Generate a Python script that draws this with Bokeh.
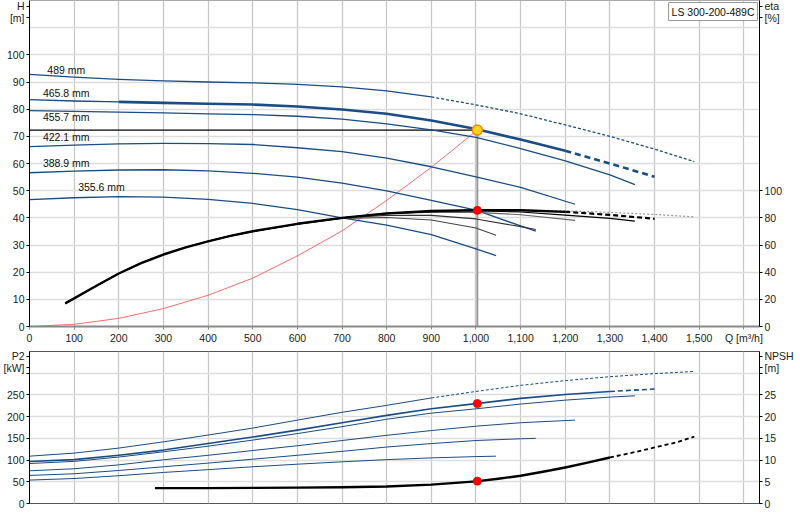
from bokeh.plotting import figure
from bokeh.layouts import column
from bokeh.models import Range1d, LinearAxis, FixedTicker, Label, NumeralTickFormatter
from bokeh.core.properties import value
from bokeh.embed import file_html
from bokeh.resources import INLINE

FONT = "Liberation Sans"
FS = "10.5px"
BLUE = "#1a4c85"
W = 796
BL, BR = 29, 34          # left / right borders of both figures

pump_name = "LS 300-200-489C"

# impeller curves: flow Q [m3/h], head H [m], efficiency eta [%], power P2 [kW]
q_489 = [0, 100, 200, 300, 400, 500, 600, 700, 800, 900, 1000, 1100, 1200, 1300, 1400, 1489]
h_489 = [92.8, 91.8, 91.0, 90.4, 90.0, 89.7, 89.1, 88.2, 86.7, 84.5, 81.6, 78.3, 74.2, 70.0, 65.3, 60.7]
qe_489 = [80, 100, 150, 200, 250, 300, 350, 400, 450, 500, 600, 700, 800, 900, 1000, 1100, 1200, 1300, 1400, 1489]
eta_489 = [17, 20.7, 30.0, 39, 46.7, 53, 58.3, 62.7, 66.7, 70.1, 75.6, 80.0, 83.3, 85.0, 85.8, 85.9, 85.2, 84.0, 82.5, 80.7]
p2_489 = [109, 116, 127.6, 142, 157.6, 173.7, 192, 210, 226, 243, 258, 272, 283, 292, 299, 304]

q_466 = [0, 100, 200, 300, 400, 500, 600, 700, 800, 900, 1000, 1100, 1200, 1300, 1400]
h_466 = [83.5, 83.0, 82.7, 82.3, 82.0, 81.7, 81.0, 79.9, 78.3, 75.8, 72.7, 68.8, 64.7, 60.0, 55.1]
qe_466 = [80, 100, 150, 200, 250, 300, 350, 400, 450, 500, 600, 700, 800, 900, 1000, 1100, 1200, 1300, 1400]
eta_466 = [17, 20.7, 30.0, 39, 46.7, 53, 58.3, 62.7, 66.7, 70.1, 75.6, 80.0, 83.3, 85.0, 85.7, 85.6, 84.4, 82.2, 79.3]
p2_466 = [96.8, 101, 111, 123, 138, 153, 169, 186, 203, 218, 230, 242, 251, 258, 263.6]

q_456 = [0, 100, 200, 300, 400, 500, 600, 700, 800, 900, 1000, 1100, 1200, 1300, 1356]
h_456 = [79.5, 79.2, 78.9, 78.6, 78.3, 78.0, 77.4, 76.3, 74.6, 72.4, 69.6, 65.5, 61.0, 55.8, 52.2]
qe_456 = [80, 100, 150, 200, 250, 300, 350, 400, 450, 500, 600, 700, 800, 900, 1000, 1100, 1200, 1300, 1356]
eta_456 = [17, 20.7, 30.0, 39, 46.7, 53, 58.3, 62.7, 66.7, 70.0, 75.5, 80.0, 83.0, 84.6, 85.2, 84.3, 82.0, 79.6, 77.6]
p2_456 = [92, 97, 107, 119, 132, 146, 161, 177, 194, 208, 218, 229, 238, 245, 248]

q_422 = [0, 100, 200, 300, 400, 500, 600, 700, 800, 900, 1000, 1100, 1222]
h_422 = [66.2, 66.8, 67.2, 67.4, 67.3, 67.0, 65.8, 64.4, 62.0, 58.8, 55.1, 51.2, 45.0]
qe_422 = [80, 100, 150, 200, 250, 300, 350, 400, 450, 500, 600, 700, 800, 900, 1000, 1100, 1222]
eta_422 = [17, 20.7, 30.0, 39, 46.7, 53, 58.3, 62.7, 66.7, 70.0, 75.5, 80.0, 82.8, 84.2, 84.0, 82.3, 78.1]
p2_422 = [75.3, 80, 89, 100.7, 111, 122, 133, 145, 157, 168, 178, 186, 192]

q_389 = [0, 100, 200, 300, 400, 500, 600, 700, 800, 900, 1000, 1100, 1134]
h_389 = [56.6, 57.2, 57.6, 57.7, 57.3, 56.4, 55.0, 52.8, 49.9, 46.4, 42.8, 37.0, 35.1]
qe_389 = [80, 100, 150, 200, 250, 300, 350, 400, 450, 500, 600, 700, 800, 900, 1000, 1100, 1134]
eta_389 = [17, 20.7, 30.0, 39, 46.7, 53, 58.3, 62.7, 66.7, 70.0, 75.5, 80.0, 81.8, 81.8, 79.2, 73.5, 71.4]
p2_389 = [64.6, 68.5, 76, 84.6, 93, 102, 111, 120, 130, 138, 145, 149, 150]

q_356 = [0, 100, 200, 300, 400, 500, 600, 700, 800, 900, 1000, 1045]
h_356 = [46.7, 47.4, 47.8, 47.6, 46.8, 45.3, 43.0, 40.0, 37.3, 33.8, 28.6, 26.1]
qe_356 = [80, 100, 150, 200, 250, 300, 350, 400, 450, 500, 600, 700, 800, 900, 1000, 1045]
eta_356 = [17, 20.7, 30.0, 39, 46.7, 53, 58.3, 62.7, 66.7, 70.0, 75.3, 79.6, 80.2, 78.4, 72.5, 67.2]
p2_356 = [53.9, 57.5, 64, 71.5, 78, 84.5, 90.5, 96, 101, 105, 108, 109]

# NPSH required
q_npsh = [281, 400, 500, 600, 700, 800, 900, 1000, 1050, 1100, 1150, 1200, 1250, 1300, 1350, 1400, 1450, 1489]
npsh = [3.55, 3.55, 3.6, 3.65, 3.75, 3.9, 4.35, 5.1, 5.7, 6.4, 7.3, 8.3, 9.4, 10.6, 11.7, 12.9, 14.1, 15.4]

# system curve
q_sys = [0, 100, 200, 300, 400, 500, 600, 700, 800, 900, 1003]
h_sys = [0, 0.8, 3.0, 6.6, 11.5, 17.8, 26.0, 35.2, 46.4, 58.6, 72.3]

# duty point
duty_q = 1003
duty_h = 72.3
duty_eta = 85.5
duty_p2 = 230
duty_npsh = 5.15

label_txt = ["489 mm", "465.8 mm", "455.7 mm", "422.1 mm", "388.9 mm", "355.6 mm"]
label_q = [40, 30, 30, 30, 30, 109]
label_h = [94.3, 86.0, 77.3, 69.9, 60.2, 51.2]

# axis ticks and the quantity / unit captions that sit at the top of each axis
h_ticks = [0, 10, 20, 30, 40, 50, 60, 70, 80, 90, 100]
h_caption = {117.8: "H", 113.7: "[m]"}
eta_ticks = [0, 20, 40, 60, 80, 100]
eta_caption = {235.6: "eta", 227.4: "[%]"}
q_ticks = [0, 100, 200, 300, 400, 500, 600, 700, 800, 900, 1000, 1100, 1200, 1300, 1400, 1500, 1600]
q_caption = {1600: "Q [m³/h]"}
p2_ticks = [0, 50, 100, 150, 200, 250, 300]
p2_caption = {300: "", 338.5: "P2", 313: "[kW]"}
npsh_ticks = [0, 5, 10, 15, 20, 25, 30]
npsh_caption = {30: "", 33.85: "NPSH", 31.3: "[m]"}


def piece(fig, q, y, lo, hi, **style):
    xs = [a for a in q if lo <= a <= hi]
    ys = [b for a, b in zip(q, y) if lo <= a <= hi]
    fig.line(xs, ys, line_join="round", **style)


def style_axis(ax, ticks, caption, color="black"):
    ax.ticker = FixedTicker(ticks=ticks + [t for t in caption if t not in ticks])
    ax.major_label_overrides = caption
    ax.axis_line_color = color
    ax.major_tick_line_color = color
    ax.major_tick_out = 3
    ax.major_tick_in = 0
    ax.minor_tick_line_color = None
    ax.major_label_standoff = 2
    ax.major_label_text_font = FONT
    ax.major_label_text_font_size = FS
    ax.major_label_text_color = "#222"


def style_grid(fig, yticks):
    fig.xgrid.ticker = FixedTicker(ticks=q_ticks)
    fig.ygrid.ticker = FixedTicker(ticks=yticks)
    fig.xgrid.grid_line_color = "#c8c8c8"
    fig.ygrid.grid_line_color = "#dddddd"
    fig.xgrid.grid_line_width = 1.3
    fig.ygrid.grid_line_width = 1.3


# ---------------- top: head / efficiency ----------------
p = figure(width=W, height=346, x_range=Range1d(0, 1635), y_range=Range1d(0, 120),
           output_backend="svg", toolbar_location=None,
           min_border_left=BL, min_border_right=BR, min_border_top=0, min_border_bottom=0)
p.extra_y_ranges = {"eta": Range1d(0, 240)}
p.add_layout(LinearAxis(y_range_name="eta"), "right")
p.outline_line_color = "#aaa"

style_axis(p.yaxis[0], h_ticks, h_caption)
style_axis(p.yaxis[1], eta_ticks, eta_caption)
style_axis(p.xaxis[0], q_ticks, q_caption, "#888")
p.xaxis.formatter = NumeralTickFormatter(format="0,0")
p.xaxis.axis_line_width = 2
style_grid(p, list(range(0, 130, 10)))

# system curve and duty lines
p.line(q_sys, h_sys, color="#ff5a5a", line_width=0.9)
p.segment(x0=[duty_q], y0=[0], x1=[duty_q], y1=[duty_h], color="#9a9a9a", line_width=2)
p.segment(x0=[0], y0=[duty_h], x1=[duty_q], y1=[duty_h], color="black", line_width=1.2)

# head curves
piece(p, q_489, h_489, 0, 900, color=BLUE, line_width=1.3)
piece(p, q_489, h_489, 900, 2000, color=BLUE, line_width=1.3, line_dash="3 2")
piece(p, q_466, h_466, 0, 200, color=BLUE, line_width=1.3)
piece(p, q_466, h_466, 200, 1200, color=BLUE, line_width=2.6)
piece(p, q_466, h_466, 1200, 2000, color=BLUE, line_width=2.6, line_dash="6 4")
for q, h in [(q_456, h_456), (q_422, h_422), (q_389, h_389), (q_356, h_356)]:
    piece(p, q, h, 0, 2000, color=BLUE, line_width=1.3)

# efficiency curves
piece(p, qe_489, eta_489, 0, 900, color="#555", line_width=1, y_range_name="eta")
piece(p, qe_489, eta_489, 900, 2000, color="#999", line_width=1.2, line_dash="2 2", y_range_name="eta")
for q, e, c in [(qe_356, eta_356, "#444"), (qe_389, eta_389, "#333"),
                (qe_422, eta_422, "#666"), (qe_456, eta_456, "black")]:
    piece(p, q, e, 0, 2000, color=c, line_width=1.1, y_range_name="eta")
piece(p, qe_466, eta_466, 0, 1200, color="black", line_width=2.4, y_range_name="eta")
piece(p, qe_466, eta_466, 1200, 2000, color="black", line_width=2.2, line_dash="5 3", y_range_name="eta")

p.text(x=label_q, y=label_h, text=label_txt, text_font=value(FONT), text_font_size=FS,
       text_baseline="middle", text_align="left", text_color="#111")

p.scatter([duty_q], [duty_eta], size=8, color="red", y_range_name="eta")
p.scatter([duty_q], [duty_h], size=10, fill_color="#ffd21e", line_color="#f08a00", line_width=1.5)

p.add_layout(Label(x=1635, y=120, x_offset=-2, y_offset=-2, text=pump_name, text_font=FONT,
                   text_font_size=FS, text_align="right", text_baseline="top",
                   text_color="#111", border_line_color="#999", background_fill_color="white",
                   padding=3))

# ---------------- bottom: power / NPSH ----------------
p2 = figure(width=W, height=163, x_range=p.x_range, y_range=Range1d(0, 350),
            output_backend="svg", toolbar_location=None,
            min_border_left=BL, min_border_right=BR, min_border_top=5, min_border_bottom=6)
p2.extra_y_ranges = {"npsh": Range1d(0, 35)}
p2.add_layout(LinearAxis(y_range_name="npsh"), "right")
p2.outline_line_color = "#555"
p2.xaxis.visible = False
style_axis(p2.yaxis[0], p2_ticks, p2_caption)
style_axis(p2.yaxis[1], npsh_ticks, npsh_caption)
style_grid(p2, list(range(0, 400, 50)))

piece(p2, q_489, p2_489, 0, 900, color=BLUE, line_width=1)
piece(p2, q_489, p2_489, 900, 2000, color=BLUE, line_width=1, line_dash="3 2")
piece(p2, q_466, p2_466, 0, 1300, color=BLUE, line_width=1.6)
piece(p2, q_466, p2_466, 1300, 2000, color=BLUE, line_width=1.6, line_dash="5 3")
for q, pw in [(q_456, p2_456), (q_422, p2_422), (q_389, p2_389), (q_356, p2_356)]:
    piece(p2, q, pw, 0, 2000, color=BLUE, line_width=1)

piece(p2, q_npsh, npsh, 0, 1300, color="black", line_width=2.4, y_range_name="npsh")
piece(p2, q_npsh, npsh, 1300, 2000, color="black", line_width=1.8, line_dash="4 3", y_range_name="npsh")

p2.scatter([duty_q], [duty_p2], size=8, color="red")
p2.scatter([duty_q], [duty_npsh], size=8, color="red", y_range_name="npsh")

layout = column(p, p2)
open("out.html", "w").write(file_html(layout, INLINE))
